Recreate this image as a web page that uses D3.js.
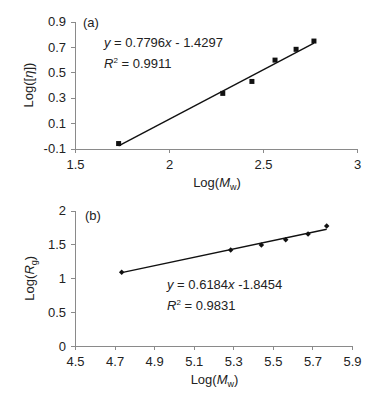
<!DOCTYPE html>
<html>
<head>
<meta charset="utf-8">
<script src="https://cdn.jsdelivr.net/npm/d3@7"></script>
<style>
  body { margin: 0; background: #fff; }
  svg { display: block; font-family: "Liberation Sans", Arial, sans-serif; }
  .axis path, .axis line { stroke: #8a8a8a; stroke-width: 1; shape-rendering: crispEdges; }
  .axis text { fill: #222; font-size: 13px; font-family: "Liberation Sans", Arial, sans-serif; }
  .lbl { fill: #222; font-size: 13px; }
</style>
</head>
<body>
<script>
// panel (a): Log([eta]) vs Log(Mw)
const logMwA = [1.732, 2.286, 2.441, 2.564, 2.676, 2.771]
const logEta = [-0.061, 0.334, 0.428, 0.596, 0.681, 0.746]
const fitA = { slope: 0.7796, intercept: -1.4297 }
const xTicksA = [1.5, 2, 2.5, 3]
const yTicksA = [-0.1, 0.1, 0.3, 0.5, 0.7, 0.9]

// panel (b): Log(Rg) vs Log(Mw)
const logMwB = [4.736, 5.287, 5.442, 5.565, 5.678, 5.772]
const logRg = [1.088, 1.417, 1.491, 1.569, 1.653, 1.771]
const fitB = { slope: 0.6184, intercept: -1.8454 }
const xTicksB = [4.5, 4.7, 4.9, 5.1, 5.3, 5.5, 5.7, 5.9]
const yTicksB = [0, 0.5, 1, 1.5, 2]

const svg = d3.select('body').append('svg')
  .attr('width', 390)
  .attr('height', 396)

const drawPanel = (opts) => {
  const x = d3.scaleLinear().domain(opts.xDomain).range(opts.xRange)
  const y = d3.scaleLinear().domain(opts.yDomain).range(opts.yRange)
  const g = svg.append('g')

  g.append('g')
    .attr('class', 'axis')
    .attr('transform', 'translate(0,' + opts.yRange[0] + ')')
    .call(d3.axisBottom(x).tickValues(opts.xTicks).tickSize(4).tickPadding(7).tickSizeOuter(0)
      .tickFormat(d => String(d)))

  g.append('g')
    .attr('class', 'axis')
    .attr('transform', 'translate(' + opts.xRange[0] + ',0)')
    .call(d3.axisLeft(y).tickValues(opts.yTicks).tickSize(4).tickPadding(5).tickSizeOuter(0)
      .tickFormat(d => String(d)))

  // fit line over the range of the data
  const xs = d3.extent(opts.xs)
  const fit = opts.fit
  g.append('path')
    .datum(xs.map(v => [v, fit.slope * v + fit.intercept]))
    .attr('fill', 'none')
    .attr('stroke', '#111')
    .attr('stroke-width', 1.4)
    .attr('d', d3.line().x(d => x(d[0])).y(d => y(d[1])))

  const pts = opts.xs.map((v, i) => [v, opts.ys[i]])
  g.selectAll('.pt')
    .data(pts)
    .enter().append('path')
    .attr('class', 'pt')
    .attr('transform', d => 'translate(' + x(d[0]) + ',' + y(d[1]) + ')' + (opts.rotate ? ' rotate(45)' : ''))
    .attr('d', d3.symbol().type(d3.symbolSquare).size(opts.symbolSize))
    .attr('fill', '#111')

  // x title Log(Mw)
  const xt = g.append('text')
    .attr('class', 'lbl')
    .attr('x', (opts.xRange[0] + opts.xRange[1]) / 2 + 1)
    .attr('y', opts.yRange[0] + 38)
    .attr('text-anchor', 'middle')
  xt.append('tspan').text('Log(')
  xt.append('tspan').attr('font-style', 'italic').text('M')
  xt.append('tspan').attr('font-size', '9px').attr('dy', 3).text('w')
  xt.append('tspan').attr('dy', -3).text(')')

  // y title
  const yt = g.append('text')
    .attr('class', 'lbl')
    .attr('transform', 'translate(' + opts.yTitleX + ',' + (opts.yRange[0] + opts.yRange[1]) / 2 + ') rotate(-90)')
    .attr('text-anchor', 'middle')
  opts.yTitle(yt)

  // panel tag
  g.append('text')
    .attr('class', 'lbl')
    .attr('x', opts.tag[1])
    .attr('y', opts.tag[2])
    .text(opts.tag[0])

  // equation and R2
  const eq = g.append('text')
    .attr('class', 'lbl')
    .attr('x', opts.eqPos[0])
    .attr('y', opts.eqPos[1])
  eq.append('tspan').attr('font-style', 'italic').text('y')
  eq.append('tspan').text(' = ' + fit.slope)
  eq.append('tspan').attr('font-style', 'italic').text('x')
  eq.append('tspan').text(opts.eqTail)

  const r2 = g.append('text')
    .attr('class', 'lbl')
    .attr('x', opts.eqPos[0])
    .attr('y', opts.eqPos[1] + 21)
  r2.append('tspan').attr('font-style', 'italic').text('R')
  r2.append('tspan').attr('font-size', '8px').attr('dy', -5).text('2')
  r2.append('tspan').attr('dy', 5).text(' = ' + opts.r2)
}

drawPanel({
  xDomain: [1.5, 3], xRange: [75, 357],
  yDomain: [-0.1, 0.9], yRange: [148.5, 21.5],
  xTicks: xTicksA, yTicks: yTicksA,
  xs: logMwA, ys: logEta, fit: fitA,
  symbolSize: 25, rotate: false,
  yTitleX: 33,
  yTitle: t => {
    t.append('tspan').text('Log([')
    t.append('tspan').attr('font-style', 'italic').text('η')
    t.append('tspan').text('])')
  },
  tag: ['(a)', 83, 27],
  eqPos: [104, 47],
  eqTail: ' - 1.4297',
  r2: '0.9911'
})

drawPanel({
  xDomain: [4.5, 5.9], xRange: [75, 352],
  yDomain: [0, 2], yRange: [346, 210.5],
  xTicks: xTicksB, yTicks: yTicksB,
  xs: logMwB, ys: logRg, fit: fitB,
  symbolSize: 15, rotate: true,
  yTitleX: 34,
  yTitle: t => {
    t.append('tspan').text('Log(')
    t.append('tspan').attr('font-style', 'italic').text('R')
    t.append('tspan').attr('font-size', '9px').attr('dy', 3).text('g')
    t.append('tspan').attr('dy', -3).text(')')
  },
  tag: ['(b)', 85, 220],
  eqPos: [167, 289],
  eqTail: ' -1.8454',
  r2: '0.9831'
})
</script>
</body>
</html>
